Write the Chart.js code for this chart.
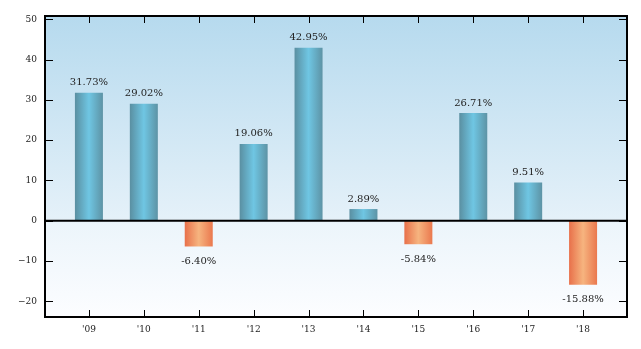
<!DOCTYPE html>
<html>
<head>
<meta charset="utf-8">
<script src="https://cdn.jsdelivr.net/npm/chart.js@4"></script>
<style>
  html,body{margin:0;padding:0;background:#fff;}
  #wrap{width:641px;height:349px;position:relative;}
</style>
</head>
<body>
<div id="wrap"><canvas id="c" width="641" height="349"></canvas></div>
<script>
const categories = ["'09","'10","'11","'12","'13","'14","'15","'16","'17","'18"];
const returns = [31.73, 29.02, -6.40, 19.06, 42.95, 2.89, -5.84, 26.71, 9.51, -15.88];
const yTickValues = [50, 40, 30, 20, 10, 0, -10, -20];

const FONT = "'DejaVu Serif', serif";

function makeBarGradient(ctx, cx, half, v) {
  const g = ctx.createLinearGradient(cx - half, 0, cx + half, 0);
  if (v >= 0) {
    g.addColorStop(0, '#5a8fa1');
    g.addColorStop(0.5, '#6fc6e3');
    g.addColorStop(1, '#5d93a5');
  } else {
    g.addColorStop(0, '#e8704a');
    g.addColorStop(0.5, '#f6b47f');
    g.addColorStop(1, '#ea784e');
  }
  return g;
}

const bgPlugin = {
  id: 'bg',
  beforeDatasetsDraw(chart) {
    const {ctx, chartArea: a, scales: {y}} = chart;
    const z = (y.getPixelForValue(0) - a.top) / (a.bottom - a.top);
    const g = ctx.createLinearGradient(0, a.top, 0, a.bottom);
    g.addColorStop(0, '#b6daee');
    g.addColorStop(z, '#e5f1f9');
    g.addColorStop(Math.min(1, z + 0.01), '#ecf5fb');
    g.addColorStop(1, '#fcfdff');
    ctx.save();
    ctx.fillStyle = g;
    ctx.fillRect(a.left, a.top, a.right - a.left, a.bottom - a.top);
    ctx.restore();
    // bar gradients from the bar elements' own geometry
    const meta = chart.getDatasetMeta(0);
    meta.data.forEach((bar, i) => {
      if (isFinite(bar.x) && isFinite(bar.width)) {
        bar.options.backgroundColor = makeBarGradient(ctx, bar.x, bar.width / 2, returns[i]);
      }
    });
  },
  afterDatasetsDraw(chart) {
    const {ctx, chartArea: a, scales: {x, y}} = chart;
    ctx.save();
    const meta = chart.getDatasetMeta(0);
    ctx.font = "10px " + FONT;
    ctx.fillStyle = '#222';
    ctx.textAlign = 'center';
    ctx.textBaseline = 'alphabetic';
    meta.data.forEach((bar, i) => {
      const v = returns[i];
      const t = v.toFixed(2) + '%';
      if (v >= 0) ctx.fillText(t, bar.x, bar.y - 7.5);
      else ctx.fillText(t, bar.x, bar.y + 17.5);
    });
    ctx.strokeStyle = '#000';
    ctx.lineWidth = 2;
    const y0 = y.getPixelForValue(0);
    ctx.beginPath();
    ctx.moveTo(a.left, y0);
    ctx.lineTo(a.right, y0);
    ctx.stroke();
    ctx.lineWidth = 1;
    yTickValues.forEach(v => {
      const py = Math.round(y.getPixelForValue(v)) + 0.5;
      ctx.beginPath();
      ctx.moveTo(a.left, py); ctx.lineTo(a.left + 8, py);
      ctx.moveTo(a.right, py); ctx.lineTo(a.right - 8, py);
      ctx.stroke();
    });
    categories.forEach((c, i) => {
      const px = Math.round(x.getPixelForValue(i)) + 0.5;
      ctx.beginPath();
      ctx.moveTo(px, a.top); ctx.lineTo(px, a.top + 7);
      ctx.moveTo(px, a.bottom); ctx.lineTo(px, a.bottom - 7);
      ctx.stroke();
    });
    ctx.lineWidth = 2;
    ctx.strokeRect(a.left, a.top, a.right - a.left, a.bottom - a.top);
    ctx.restore();
  }
};

new Chart(document.getElementById('c'), {
  type: 'bar',
  data: {
    datasets: [{
      data: returns.map((v, i) => ({x: i, y: v})),
      backgroundColor: ctx => (ctx.raw && ctx.raw.y < 0 ? '#f09a6a' : '#66b0c8'),
      borderWidth: 0,
      barPercentage: 0.51,
      categoryPercentage: 1.0
    }]
  },
  options: {
    responsive: false,
    animation: false,
    devicePixelRatio: 1,
    layout: {padding: {left: 0, right: 14, top: 16, bottom: 0}},
    plugins: {legend: {display: false}, tooltip: {enabled: false}},
    scales: {
      x: {
        type: 'linear',
        offset: false,
        min: -0.8,
        max: 9.8,
        grid: {display: false, drawTicks: false},
        border: {display: false},
        afterBuildTicks: s => { s.ticks = categories.map((c, i) => ({value: i})); },
        afterFit: s => { s.height = 32; },
        ticks: {
          padding: 7,
          color: '#222',
          font: {family: FONT, size: 9},
          callback: v => categories[v],
          maxRotation: 0,
          autoSkip: false
        }
      },
      y: {
        min: -23.9,
        max: 50.8,
        grid: {display: false, drawTicks: false},
        border: {display: false},
        afterBuildTicks: s => { s.ticks = yTickValues.map(v => ({value: v})); },
        afterFit: s => { s.width = 45; },
        ticks: {
          padding: 8,
          color: '#222',
          font: {family: FONT, size: 9},
          callback: v => (v < 0 ? '\u2212' + Math.abs(v) : String(v))
        }
      }
    }
  },
  plugins: [bgPlugin]
});
</script>
</body>
</html>
